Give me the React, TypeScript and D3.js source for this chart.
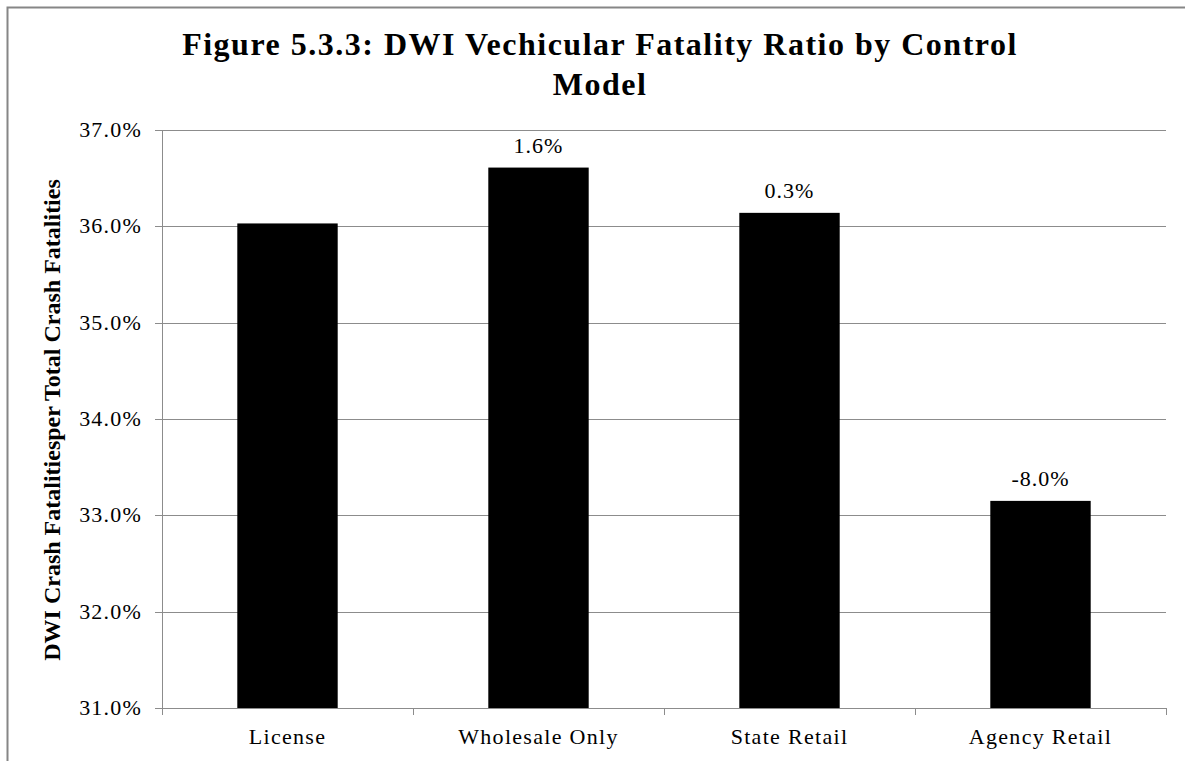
import React from "react";
import * as d3 from "d3";

const categories = ["License", "Wholesale Only", "State Retail", "Agency Retail"];
const values = [36.03, 36.61, 36.14, 33.15];
const dataLabels = ["", "1.6%", "0.3%", "-8.0%"];
const yTicks = [31, 32, 33, 34, 35, 36, 37];

const W = 1185;
const H = 761;
const left = 162;
const right = 1166;
const top = 130;
const bottom = 708;
const serif = "Liberation Serif, Times New Roman, serif";

export default function App() {
  const x = d3.scaleBand<string>().domain(categories).range([left, right]).paddingInner(0.6).paddingOuter(0.3);
  const y = d3.scaleLinear().domain([31, 37]).range([bottom, top]);
  const step = (right - left) / categories.length;
  const boundaries = d3.range(categories.length + 1).map((i) => left + i * step);

  return (
    <svg width={W} height={H} style={{ position: "fixed", left: 0, top: 0, background: "#fff" }}>
      <rect x={0} y={0} width={W} height={H} fill="#fff" />
      <path d={`M7.5,${H + 5} V7.5 H${W + 5}`} fill="none" stroke="#868686" strokeWidth={2} />
      <text x={600} y={55} textAnchor="middle" fontFamily={serif} fontWeight="bold" fontSize={32} letterSpacing={1.5}>
        Figure 5.3.3: DWI Vechicular Fatality Ratio by Control
      </text>
      <text x={600} y={95} textAnchor="middle" fontFamily={serif} fontWeight="bold" fontSize={32} letterSpacing={1.5}>
        Model
      </text>
      {yTicks.map((t) => (
        <g key={t}>
          <line x1={left} x2={right} y1={Math.round(y(t)) + 0.5} y2={Math.round(y(t)) + 0.5} stroke="#8c8c8c" strokeWidth={1} />
          <line x1={left - 7} x2={left} y1={Math.round(y(t)) + 0.5} y2={Math.round(y(t)) + 0.5} stroke="#8c8c8c" strokeWidth={1} />
          <text x={142} y={y(t) + 7} textAnchor="end" fontFamily={serif} fontSize={22} letterSpacing={1.2} fill="#000">
            {d3.format(".1f")(t)}%
          </text>
        </g>
      ))}
      <line x1={left + 0.5} x2={left + 0.5} y1={top} y2={bottom} stroke="#8c8c8c" strokeWidth={1} />
      {boundaries.map((b, i) => (
        <line key={i} x1={Math.round(b) + 0.5} x2={Math.round(b) + 0.5} y1={bottom} y2={bottom + 7} stroke="#8c8c8c" strokeWidth={1} />
      ))}
      {categories.map((c, i) => (
        <rect key={c} x={x(c)} y={y(values[i])} width={x.bandwidth()} height={bottom - y(values[i])} fill="#000" />
      ))}
      {categories.map((c, i) => (
        <text key={c} x={(x(c) as number) + x.bandwidth() / 2} y={y(values[i]) - 15} textAnchor="middle" fontFamily={serif} fontSize={22} letterSpacing={1} fill="#000">
          {dataLabels[i]}
        </text>
      ))}
      {categories.map((c) => (
        <text key={c} x={(x(c) as number) + x.bandwidth() / 2} y={744} textAnchor="middle" fontFamily={serif} fontSize={22} letterSpacing={1.3} fill="#000">
          {c}
        </text>
      ))}
      <text transform={`translate(60,420) rotate(-90)`} textAnchor="middle" fontFamily={serif} fontWeight="bold" fontSize={24} fill="#000">
        DWI Crash Fatalitiesper Total Crash Fatalities
      </text>
    </svg>
  );
}
